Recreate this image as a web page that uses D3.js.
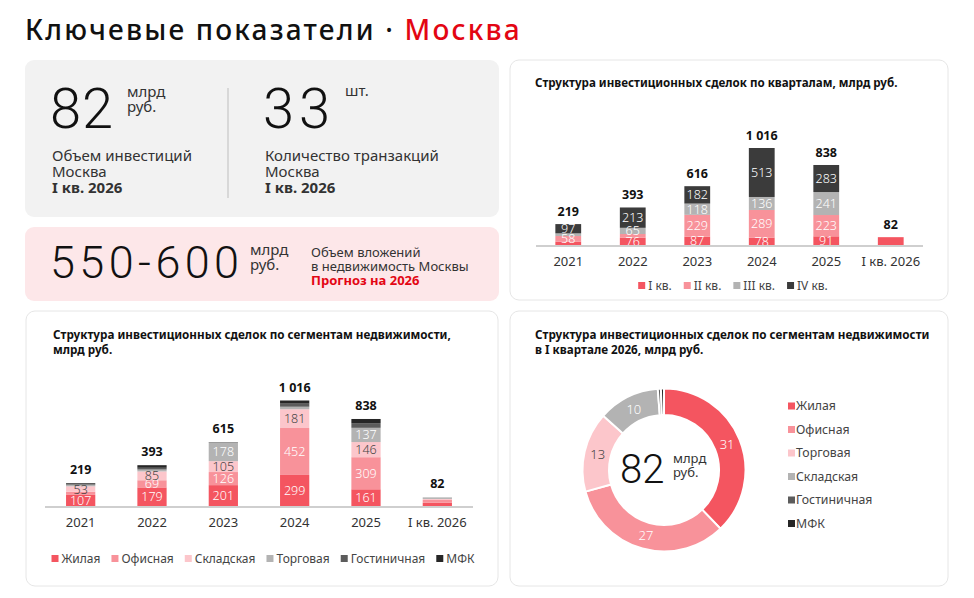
<!DOCTYPE html>
<html>
<head>
<meta charset="utf-8">
<script src="https://cdn.jsdelivr.net/npm/d3@7"></script>
<style>
  body { margin: 0; background: #fff; }
  svg { display: block; font-family: "Noto Sans", sans-serif; }
</style>
</head>
<body>
<svg id="chart" width="974" height="598"></svg>
<script>
// ---- data ----
const years = ['2021', '2022', '2023', '2024', '2025', 'I кв. 2026']

const quarters = ['I кв.', 'II кв.', 'III кв.', 'IV кв.']
const q1 = [36, 76, 87, 78, 91, 82]
const q2 = [58, 39, 229, 289, 223, 0]
const q3 = [28, 65, 118, 136, 241, 0]
const q4 = [97, 213, 182, 513, 283, 0]
const quarterTotals = [219, 393, 616, 1016, 838, 82]

const segments = ['Жилая', 'Офисная', 'Складская', 'Торговая', 'Гостиничная', 'МФК']
const residential = [107, 179, 201, 299, 161, 31]
const office = [30, 69, 126, 452, 309, 27]
const warehouse = [53, 85, 105, 181, 146, 10]
const retail = [15, 18, 178, 24, 137, 13]
const hotel = [6, 17, 3, 30, 45, 0.5]
const mixed = [8, 25, 2, 30, 40, 0.5]
const segmentTotals = [219, 393, 615, 1016, 838, 82]

const pieNames = ['Жилая', 'Офисная', 'Торговая', 'Складская', 'Гостиничная', 'МФК']
const pieValues = [31, 27, 13, 10, 0.5, 0.5]

// ---- style ----
const RED = '#f45560', PINK = '#f8929a', LIGHT = '#fcc6cb', GRAY = '#b3b3b3',
      DARK = '#3b3b3b', HOTEL = '#5c5c5c', MFK = '#262626'
const quarterColors = [RED, PINK, GRAY, DARK]
const segmentColors = [RED, PINK, LIGHT, GRAY, HOTEL, MFK]
const pieColors = [RED, PINK, LIGHT, GRAY, HOTEL, MFK]
const TEXT = '#333'

const fmt = d3.formatLocale({ thousands: '\u00a0', grouping: [3], decimal: ',', currency: ['', ''] }).format(',d')

const svg = d3.select('#chart')

// ---- panels ----
const panels = [
  { x: 25, y: 60, w: 474, h: 157, fill: '#f2f2f2', stroke: 'none' },
  { x: 25, y: 227, w: 474, h: 74, fill: '#fde7e9', stroke: 'none' },
  { x: 510, y: 60, w: 438, h: 240, fill: '#fff', stroke: '#e6e6e6' },
  { x: 26, y: 311, w: 472, h: 275, fill: '#fff', stroke: '#e6e6e6' },
  { x: 510, y: 311, w: 438, h: 275, fill: '#fff', stroke: '#e6e6e6' }
]
svg.selectAll('.panel').data(panels).enter().append('rect')
  .attr('class', 'panel')
  .attr('x', d => d.x).attr('y', d => d.y)
  .attr('width', d => d.w).attr('height', d => d.h)
  .attr('rx', 9)
  .attr('fill', d => d.fill)
  .attr('stroke', d => d.stroke)

// ---- header ----
const title = svg.append('text')
  .attr('x', 25).attr('y', 40)
  .attr('font-size', 28).attr('font-weight', 500)
  .attr('letter-spacing', 2.2)
  .attr('fill', '#111')
title.append('tspan').text('Ключевые показатели · ')
title.append('tspan').attr('fill', '#e30613').text('Москва')

// ---- KPI blocks ----
function bigNumber (x, y, size, txt) {
  return svg.append('text').attr('x', x).attr('y', y)
    .attr('font-family', 'Roboto, "Noto Sans", sans-serif')
    .attr('font-size', size).attr('font-weight', 300)
    .attr('fill', '#111').text(txt)
}
function lines (x, y, step, size, rows) {
  rows.forEach((r, i) => {
    svg.append('text').attr('x', x).attr('y', y + i * step)
      .attr('font-size', size)
      .attr('font-weight', r.bold ? 700 : 400)
      .attr('fill', r.color || TEXT)
      .text(r.t)
  })
}

bigNumber(50, 128, 56, '82').attr('letter-spacing', 1)
lines(127, 97, 15, 15, [{ t: 'млрд' }, { t: 'руб.' }])
lines(52, 161, 16, 15, [{ t: 'Объем инвестиций' }, { t: 'Москва' }, { t: 'I кв. 2026', bold: true }])

svg.append('line').attr('x1', 228).attr('x2', 228).attr('y1', 88).attr('y2', 198)
  .attr('stroke', '#cfcfcf').attr('stroke-width', 1.5)

bigNumber(263, 128, 56, '33').attr('letter-spacing', 5)
lines(345, 96, 15, 15, [{ t: 'шт.' }])
lines(265, 161, 16, 15, [{ t: 'Количество транзакций' }, { t: 'Москва' }, { t: 'I кв. 2026', bold: true }])

bigNumber(50, 278, 45, '550-600').attr('letter-spacing', 4.4)
lines(250, 255, 15, 15, [{ t: 'млрд' }, { t: 'руб.' }])
lines(311, 257, 14, 13, [
  { t: 'Объем вложений' },
  { t: 'в недвижимость Москвы' },
  { t: 'Прогноз на 2026', bold: true, color: '#e30613' }
])

// ---- chart titles ----
function chartTitle (x, y, size, rows) {
  rows.forEach((t, i) => {
    svg.append('text').attr('x', x).attr('y', y + i * 15)
      .attr('font-size', size).attr('font-weight', 700)
      .attr('fill', '#111').text(t)
  })
}
chartTitle(535, 87, 11.6, ['Структура инвестиционных сделок по кварталам, млрд руб.'])
chartTitle(53, 339, 11.7, ['Структура инвестиционных сделок по сегментам недвижимости,', 'млрд руб.'])
chartTitle(535, 339, 11.7, ['Структура инвестиционных сделок по сегментам недвижимости', 'в I квартале 2026, млрд руб.'])

// ---- stacked bars ----
function stackedBars (opt) {
  const g = svg.append('g')
  const table = years.map((y, i) => {
    const row = { year: y }
    opt.keys.forEach((k, j) => { row[k] = opt.series[j][i] })
    return row
  })
  const stack = d3.stack().keys(opt.keys)(table)

  const x = d3.scaleBand().domain(years)
    .range([opt.x0, opt.x1]).paddingInner(opt.pad).paddingOuter(opt.pad / 2)
  const y = d3.scaleLinear().domain([0, d3.max(opt.totals)])
    .range([opt.base, opt.base - opt.h])

  g.selectAll('.layer').data(stack).enter().append('g')
    .attr('fill', (d, i) => opt.colors[i])
    .selectAll('rect').data(d => d).enter().append('rect')
    .attr('x', d => x(d.data.year))
    .attr('width', x.bandwidth())
    .attr('y', d => y(d[1]))
    .attr('height', d => y(d[0]) - y(d[1]))

  // segment labels
  stack.forEach((layer, li) => {
    layer.forEach((d, i) => {
      const v = d[1] - d[0]
      if (v < 50 || i === years.length - 1) return
      g.append('text')
        .attr('x', x(d.data.year) + x.bandwidth() / 2)
        .attr('y', (y(d[0]) + y(d[1])) / 2)
        .attr('dy', '0.36em')
        .attr('text-anchor', 'middle')
        .attr('font-size', 12.5).attr('font-weight', 300)
        .attr('fill', opt.labelColors[li])
        .text(fmt(v))
    })
  })

  // totals
  g.selectAll('.total').data(opt.totals).enter().append('text')
    .attr('x', (d, i) => x(years[i]) + x.bandwidth() / 2)
    .attr('y', d => y(d) - opt.totalGap)
    .attr('text-anchor', 'middle')
    .attr('font-size', 12.5).attr('font-weight', 700)
    .attr('fill', '#111')
    .text(d => fmt(d))

  // baseline and year labels
  g.append('line').attr('x1', opt.x0).attr('x2', opt.x1)
    .attr('y1', opt.base + 1).attr('y2', opt.base + 1)
    .attr('stroke', '#cfcfcf').attr('stroke-width', 2)

  const axis = g.append('g').attr('transform', `translate(0,${opt.base + 2})`)
    .call(d3.axisBottom(x).tickSize(0).tickPadding(opt.tickPad))
  axis.select('.domain').remove()
  axis.selectAll('text').attr('font-size', 13).attr('fill', TEXT)
    .attr('font-family', '"Noto Sans", sans-serif')

  // legend
  const lg = g.append('g')
  let cx = 0
  opt.keys.forEach((k, i) => {
    const item = lg.append('g').attr('transform', `translate(${cx},0)`)
    item.append('rect').attr('y', -4).attr('width', 7).attr('height', 7)
      .attr('fill', opt.colors[i])
    const t = item.append('text').attr('x', 10).attr('dy', '0.32em')
      .attr('font-size', 12).attr('fill', '#444').text(k)
    cx += 10 + t.node().getComputedTextLength() + opt.legendGap
  })
  const lw = cx - opt.legendGap
  lg.attr('transform', `translate(${opt.legendCenter - lw / 2},${opt.legendY})`)
}

stackedBars({
  keys: quarters,
  series: [q1, q2, q3, q4],
  totals: quarterTotals,
  colors: quarterColors,
  labelColors: ['#fff', '#fff', '#fff', '#fff'],
  x0: 536, x1: 923, pad: 0.6,
  base: 245, h: 97, totalGap: 8, tickPad: 10,
  legendY: 286, legendCenter: 733, legendGap: 12
})

stackedBars({
  keys: segments,
  series: [residential, office, warehouse, retail, hotel, mixed],
  totals: segmentTotals,
  colors: segmentColors,
  labelColors: ['#fff', '#fff', '#444', '#fff', '#fff', '#fff'],
  x0: 45, x1: 473, pad: 0.59,
  base: 506, h: 105.5, totalGap: 9, tickPad: 10,
  legendY: 559, legendCenter: 263, legendGap: 11
})

// ---- donut ----
const dg = svg.append('g').attr('transform', 'translate(664,470)')
const pie = d3.pie().sort(null).value(d => d)(pieValues)
const arc = d3.arc().innerRadius(55).outerRadius(81.5)
const labelArc = d3.arc().innerRadius(68).outerRadius(68)

dg.selectAll('path').data(pie).enter().append('path')
  .attr('d', arc)
  .attr('fill', (d, i) => pieColors[i])
  .attr('stroke', '#fff').attr('stroke-width', 2)

dg.selectAll('.plabel').data(pie.filter(d => d.value >= 5)).enter().append('text')
  .attr('transform', d => `translate(${labelArc.centroid(d)})`)
  .attr('dy', '0.36em').attr('text-anchor', 'middle')
  .attr('font-size', 13).attr('font-weight', 300)
  .attr('fill', d => d.index === 2 ? '#444' : '#fff')
  .text(d => d.value)

svg.append('text').attr('x', 620).attr('y', 483)
  .attr('font-family', 'Roboto, "Noto Sans", sans-serif')
  .attr('font-size', 40).attr('font-weight', 300).attr('fill', '#111')
  .text(d3.sum(pieValues))
lines(673, 463, 14, 13, [{ t: 'млрд' }, { t: 'руб.' }])

const pl = svg.append('g').attr('transform', 'translate(788,406)')
pieNames.forEach((n, i) => {
  const item = pl.append('g').attr('transform', `translate(0,${i * 23.5})`)
  item.append('rect').attr('y', -3.5).attr('width', 7).attr('height', 7).attr('fill', pieColors[i])
  item.append('text').attr('x', 8).attr('dy', '0.34em')
    .attr('font-size', 12.3).attr('fill', '#444').text(n)
})
</script>
</body>
</html>
